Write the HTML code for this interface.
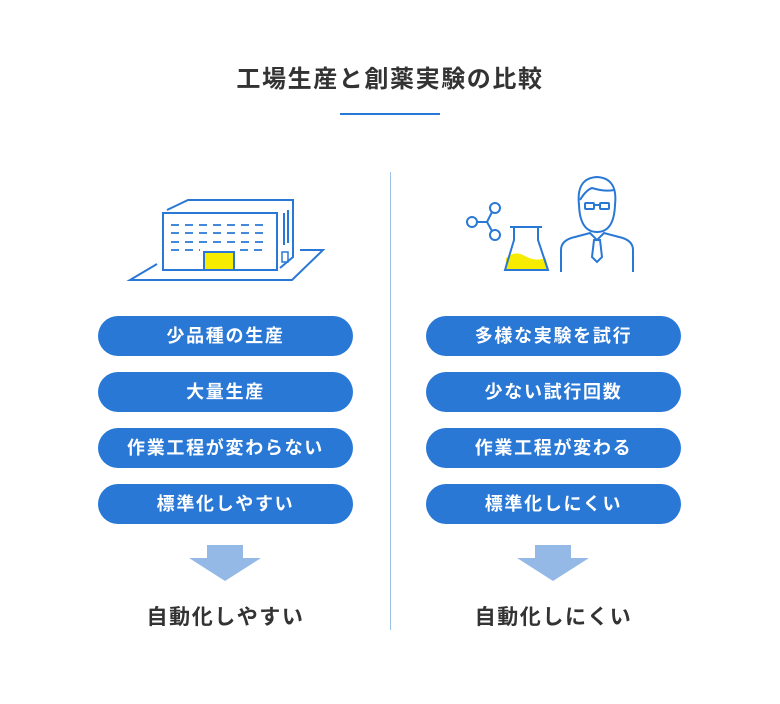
<!DOCTYPE html>
<html><head><meta charset="utf-8"><style>
body{margin:0;background:#fff;width:780px;height:704px;position:relative;overflow:hidden;font-family:"Liberation Sans","Noto Sans CJK JP",sans-serif}
.t{position:absolute;left:0;width:780px;top:59px;text-align:center;font-size:24px;letter-spacing:1.6px;font-weight:bold;color:#333}
.p{position:absolute;width:255px;height:40px;border-radius:20px;background:#2a78d6;color:#fff;font-size:18px;letter-spacing:1.7px;font-weight:bold;text-align:center;line-height:40px}
.b{position:absolute;top:601px;width:255px;text-align:center;font-size:21px;letter-spacing:1.6px;font-weight:bold;color:#333}
</style></head><body>
<div class="t">工場生産と創薬実験の比較</div>
<div style="position:absolute;left:340px;top:113px;width:100px;height:2px;background:#2a78d6"></div>
<div style="position:absolute;left:390px;top:172px;width:1px;height:458px;background:#9cc0e8"></div>
<svg width="780" height="704" style="position:absolute;left:0;top:0" fill="none" stroke="#2a78d6" stroke-width="2">
<polyline points="157,264 130,280 292,280 323,250 300,250"/>
<polyline points="167,210 188,200 293,200 293,257 280,268"/>
<rect x="163" y="213" width="114" height="57"/>
<line x1="284" y1="213" x2="284" y2="245"/><line x1="288" y1="210" x2="288" y2="243"/>
<rect x="282" y="252" width="6" height="10" stroke-width="1.5"/>
<rect x="204" y="252" width="30" height="18" fill="#f7ec00"/>
<g stroke-width="1.8">
<line x1="171" y1="225" x2="268" y2="225" stroke-dasharray="8,6"/>
<line x1="171" y1="233" x2="268" y2="233" stroke-dasharray="8,6"/>
<line x1="171" y1="242" x2="268" y2="242" stroke-dasharray="8,6"/>
<line x1="171" y1="250" x2="200" y2="250" stroke-dasharray="8,6"/>
<line x1="240" y1="250" x2="268" y2="250" stroke-dasharray="8,6"/>
</g>
<circle cx="472" cy="222" r="5"/><circle cx="495" cy="208" r="5"/><circle cx="495" cy="235" r="5"/>
<polyline points="477,222 487,222 492,212"/><line x1="487" y1="222" x2="492" y2="231"/>
<path d="M506,258 Q515,250 525,256 Q535,262 546,258 L548,270 L505,270 Z" fill="#f7ec00" stroke="none"/>
<line x1="510" y1="227" x2="542" y2="227"/>
<path d="M514,227 L514,240 L505,270 L548,270 L538,240 L538,227"/>
<path d="M579,205 Q576,178 597,177 Q618,178 615,205 Q614,232 597,232 Q580,232 579,205 Z"/>
<path d="M580,200 Q586,190 592,188 Q605,192 614,190"/>
<rect x="585" y="203" width="9" height="6" rx="1"/><rect x="600" y="203" width="9" height="6" rx="1"/><line x1="594" y1="205" x2="600" y2="205"/>
<path d="M561,272 L561,250 Q561,240 575,237 L590,233 L597,240 L604,233 L619,237 Q633,240 633,250 L633,272"/>
<path d="M594,240 L592,257 L597,262 L602,257 L600,240 Z"/>
</svg>
<div class="p" style="left:98px;top:316px">少品種の生産</div>
<div class="p" style="left:98px;top:372px">大量生産</div>
<div class="p" style="left:98px;top:428px">作業工程が変わらない</div>
<div class="p" style="left:98px;top:484px">標準化しやすい</div>
<div class="p" style="left:426px;top:316px">多様な実験を試行</div>
<div class="p" style="left:426px;top:372px">少ない試行回数</div>
<div class="p" style="left:426px;top:428px">作業工程が変わる</div>
<div class="p" style="left:426px;top:484px">標準化しにくい</div>
<svg width="780" height="704" style="position:absolute;left:0;top:0">
<polygon points="207,545 243,545 243,558 261,558 225,581 189,558 207,558" fill="#94b9e6"/>
<polygon points="535,545 571,545 571,558 589,558 553,581 517,558 535,558" fill="#94b9e6"/>
</svg>
<div class="b" style="left:98px">自動化しやすい</div>
<div class="b" style="left:426px">自動化しにくい</div>
</body></html>
